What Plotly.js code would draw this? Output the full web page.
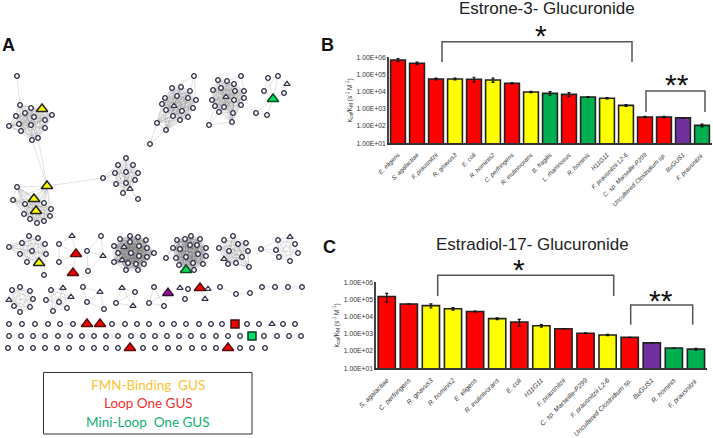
<!DOCTYPE html>
<html><head><meta charset="utf-8">
<script src="https://cdn.plot.ly/plotly-3.0.1.min.js"></script>
<style>html,body{margin:0;padding:0;background:#fff}#c{width:713px;height:438px}</style>
</head><body><div id="c"></div>
<script>
// ---- Panel B data
const bNames=["E. eligens","S. agalactiae","F. prausnitzii","R. gnavus3","E. coli","R. hominis2","C. perfringens","R. inulinivorans","B. fragilis","L. rhamnosus","R. hominis","H11G11","F. prausnitzii L2-6","C. sp. Marseille-P299","Uncultered Clostridium sp.","BuGUS1","F. prausnitzii "];
const bValues=[700000,450000,55000,55000,53000,48000,31000,9600,8000,7000,4900,4200,1600,340,340,300,110];
const bErrors=[150000,70000,6000,7000,16000,13000,3000,800,2000,1800,300,400,200,30,30,0,20];
const bGroups=["red","red","red","yellow","red","yellow","red","yellow","green","red","green","yellow","yellow","red","red","purple","green"];
// ---- Panel C data
const cNames=["S. agalactiae","C. perfringens","R. gnavus3","R. hominis2","E. eligens","R. inulinivorans","E. coli","H11G11","F. prausnitzii","C. sp. Marseille-P299","F. prausnitzii L2-6","Uncultered Clostridium sp.","BuGUS1","R. hominis","F. prausnitzii "];
const cValues=[150000,55000,44000,29000,20000,7700,4900,3000,2000,1100,870,630,300,150,130];
const cErrors=[80000,0,12000,5000,1000,1000,2000,500,0,50,70,0,0,0,15];
const cGroups=["red","red","yellow","yellow","red","yellow","red","yellow","red","red","yellow","red","purple","green","green"];
const palette={red:"#ff0000",yellow:"#ffff00",green:"#00b050",purple:"#7030a0"};
const logTicks=[10,100,1000,10000,100000,1000000];
const logTickText=["1.00E+01","1.00E+02","1.00E+03","1.00E+04","1.00E+05","1.00E+06"];
// ---- Panel A network, nodes
const net1=[[20,105],[31,108],[16,116],[25,113],[34,117],[45,120],[52,115],[9,126],[19,124],[31,125],[45,128],[21,131],[32,140],[38,138]];
const net2=[[17,187],[13,200],[25,204],[44,203],[51,209],[24,214],[30,219],[37,223],[44,221],[50,216]];
const net3=[[126,158],[118,165],[133,165],[115,173],[126,172],[138,173],[116,184],[126,183],[135,180],[123,193]];
const net4=[[172,88],[181,87],[190,91],[165,98],[177,96],[188,98],[196,100],[162,104],[193,108],[166,110],[182,111],[173,116],[180,120],[188,117],[157,123],[166,130]];
const net5=[[218,80],[227,81],[234,84],[213,90],[221,88],[235,91],[244,91],[212,100],[234,100],[244,98],[215,106],[224,107],[241,105],[219,112],[233,113],[232,122]];
const net6=[[29,236],[38,238],[22,243],[45,244],[9,247],[32,251],[20,254],[46,254],[27,262]];
const net7=[[120,239],[130,236],[138,237],[146,240],[114,246],[130,242],[139,246],[147,248],[154,253],[118,253],[131,253],[139,256],[147,257],[114,262],[128,263],[136,264],[144,264],[126,270],[138,270]];
const net8=[[177,240],[185,239],[191,236],[200,239],[173,248],[180,249],[190,245],[197,245],[206,248],[176,258],[186,257],[198,254],[206,256],[179,265],[193,263],[203,264],[194,270]];
const net9=[[224,240],[233,236],[219,248],[238,244],[246,243],[229,251],[248,251],[242,257],[228,264],[236,263],[249,267]];
const net10=[[278,240],[276,250],[295,244],[298,253],[279,257],[290,261]];
const net11=[[12,290],[20,287],[30,291],[33,299],[14,306],[30,307],[20,312]];
const net12=[[51,290],[46,300],[59,302],[67,308],[53,311]];
const looseCircles=[[17,76],[103,178],[138,199],[194,76],[150,144],[241,76],[209,125],[278,76],[268,78],[264,91],[284,93],[256,113],[267,115],[44,275],[59,244],[59,262],[101,236],[87,251],[88,271],[166,258],[261,249],[83,287],[87,302],[104,309],[135,292],[116,303],[154,287],[149,303],[164,306],[188,289],[185,299],[220,287],[236,294],[250,293],[262,287],[275,287],[288,287],[302,287]];
const row4X=[9,22,35,48,60,73,112,125,137,149,162,174,186,199,211,222,247,259,283,295];
const row5X=[9,21,33,45,58,70,82,94,106,118,131,143,155,167,179,191,203,216,228,240,264,277,289,301];
const row6X=[8,21,33,45,57,69,82,94,106,118,143,155,168,179,192,204,216,240,252,265];
const row4Y=324, row5Y=336, row6Y=348;
const whiteTriangles=[[130,189],[174,106],[226,97],[287,84],[72,236],[103,256],[124,247],[122,260],[224,259],[290,237],[9,300],[63,288],[71,297],[100,292],[122,288],[133,306],[180,288],[208,289],[205,299],[272,324]];
const yellowTriangles=[[42,109],[47,186],[34,199],[36,211],[39,263]];
const redTriangles=[[76,254],[73,273],[87,324],[100,324],[200,288],[130,348],[228,348]];
const greenTriangles=[[273,99],[186,270]];
const purpleTriangles=[[168,293]];
const redSquares=[[235,324]];
const greenSquares=[[252,336]];
const links=[
[[17,76],[20,105]],[[32,140],[47,186]],[[38,138],[47,186]],[[47,186],[103,178]],
[[103,178],[118,165]],[[103,178],[115,173]],[[103,178],[116,184]],[[103,178],[126,172]],[[103,178],[126,158]],[[130,189],[138,199]],[[126,183],[138,199]],
[[194,76],[190,91]],[[194,76],[172,88]],[[194,76],[196,100]],[[157,123],[150,144]],[[166,130],[150,144]],[[157,123],[166,130]],
[[241,76],[234,84]],[[241,76],[244,91]],[[241,76],[227,81]],[[209,125],[215,106]],[[209,125],[219,112]],[[209,125],[232,122]],
[[278,76],[268,78]],[[278,76],[287,84]],[[268,78],[264,91]],[[268,78],[273,99]],[[278,76],[273,99]],[[287,84],[273,99]],[[284,93],[273,99]],[[264,91],[273,99]],[[287,84],[284,93]],[[264,91],[278,76]],[[256,113],[273,99]],[[267,115],[273,99]],[[256,113],[267,115]],
[[39,263],[44,275]],[[46,254],[44,275]],[[72,236],[59,244]],[[72,236],[76,254]],[[59,244],[76,254]],[[59,244],[59,262]],[[59,262],[76,254]],[[59,262],[73,273]],[[76,254],[73,273]],
[[101,236],[87,251]],[[101,236],[103,256]],[[87,251],[103,256]],[[87,251],[88,271]],[[88,271],[103,256]],
[[166,258],[177,240]],[[166,258],[176,258]],[[166,258],[173,248]],[[261,249],[278,240]],[[261,249],[276,250]],[[261,249],[279,257]],
[[83,287],[100,292]],[[83,287],[87,302]],[[87,302],[100,292]],[[87,302],[104,309]],[[100,292],[104,309]],
[[122,288],[135,292]],[[122,288],[116,303]],[[122,288],[133,306]],[[135,292],[116,303]],[[135,292],[133,306]],[[116,303],[133,306]],
[[154,287],[149,303]],[[154,287],[168,293]],[[149,303],[164,306]],[[164,306],[168,293]],[[154,287],[164,306]],[[149,303],[168,293]],
[[180,288],[185,299]],[[188,289],[185,299]],[[200,288],[208,289]],[[200,288],[205,299]],[[208,289],[205,299]],
[[220,287],[236,294]],[[236,294],[250,293]],[[262,287],[275,287]],[[288,287],[302,287]],
[[9,324],[22,324]],[[35,324],[48,324]],[[60,324],[73,324]],[[73,324],[87,324]],[[112,324],[125,324]]
];
// Clusters whose members are all linked to one another
const fullyLinked=[
net1.concat([[42,109]]),net2.concat([[47,186],[34,199],[36,211]]),net3.concat([[130,189]]),
net4.concat([[174,106]]),net5.concat([[226,97]]),net6.concat([[39,263]]),
net9.concat([[224,259]]),net10.concat([[290,237]]),net11.concat([[9,300]]),net12.concat([[63,288],[71,297]])
];
// The two largest clusters read darker in the picture
const denseLinked=[net7.concat([[124,247],[122,260]]),net8.concat([[186,270]])];

const W=713,H=438;
const xp=p=>p/W, yp=p=>1-p/H;
function edgeTrace(groups,pairs,color){
  const ex=[],ey=[];
  groups.forEach(g=>{for(let i=0;i<g.length;i++)for(let j=i+1;j<g.length;j++){ex.push(g[i][0],g[j][0],null);ey.push(g[i][1],g[j][1],null);}});
  pairs.forEach(l=>{ex.push(l[0][0],l[1][0],null);ey.push(l[0][1],l[1][1],null);});
  return {type:"scatter",mode:"lines",xaxis:"x3",yaxis:"y3",x:ex,y:ey,line:{color:color,width:0.7},hoverinfo:"skip"};
}
const plainCircles=[].concat(net1,net2,net3,net4,net5,net6,net7,net8,net9,net10,net11,net12,looseCircles,
  row4X.map(x=>[x,row4Y]),row5X.map(x=>[x,row5Y]),row6X.map(x=>[x,row6Y]));

function nodes(list,symbol,size,fill,lineColor,lineWidth){
  return {type:"scatter",mode:"markers",xaxis:"x3",yaxis:"y3",x:list.map(p=>p[0]),y:list.map(p=>p[1]),
    marker:{symbol:symbol,size:size,color:fill,line:{color:lineColor,width:lineWidth}},hoverinfo:"skip",cliponaxis:false};
}
function bars(names,values,errors,groups,xa,ya){
  return {type:"bar",x:names,y:values,xaxis:xa,yaxis:ya,width:0.78,
    marker:{color:groups.map(g=>palette[g]),line:{color:"#222",width:1.6}},
    error_y:{type:"data",array:errors,visible:true,color:"#111",thickness:1.2,width:1.5}};
}
const data=[
 bars(bNames,bValues,bErrors,bGroups,"x","y"),
 bars(cNames,cValues,cErrors,cGroups,"x2","y2"),
 edgeTrace(fullyLinked,links,"rgba(140,140,140,0.36)"),
 edgeTrace(denseLinked,[],"rgba(120,120,120,0.48)"),
 nodes(plainCircles,"circle",4.6,"#fff","#2b2b45",1.3),
 nodes(whiteTriangles,"triangle-up",5.5,"#fff","#33334a",1.2),
 nodes(yellowTriangles,"triangle-up",10,"#ffff00","#222",1.5),
 nodes(redTriangles,"triangle-up",10,"#ee0000","#5a1010",1.5),
 nodes(greenTriangles,"triangle-up",10,"#00e060","#0c4a20",1.5),
 nodes(purpleTriangles,"triangle-up",9.5,"#a000a0","#301030",1.5),
 nodes(redSquares,"square",8,"#ee0000","#401010",1.5),
 nodes(greenSquares,"square",8,"#00e060","#0c3a20",1.5)
];
function valueAxis(top,bottom,anchor,font){
  return {type:"log",range:[1,6],domain:[yp(bottom),yp(top)],anchor:anchor,tickvals:logTicks,ticktext:logTickText,
    tickfont:{size:font,color:"#333"},ticks:"",showgrid:false,zeroline:false,showline:true,linecolor:"#444",linewidth:1.3,automargin:false,
    title:{text:"k<sub>cat</sub>/K<sub>M</sub> (s<sup>-1</sup> M<sup>-1</sup>)",font:{size:6.5,color:"#333"},standoff:3}};
}
function nameAxis(left,right,anchor,font){
  return {type:"category",domain:[xp(left),xp(right)],anchor:anchor,tickangle:-45,ticklabelstandoff:4,
    tickfont:{size:font,color:"#333",family:"Liberation Sans",style:"italic"},
    ticks:"",showgrid:false,zeroline:false,showline:true,linecolor:"#333",linewidth:1.6,automargin:false};
}
function note(text,x,y,size,color,extra){
  return Object.assign({text:text,xref:"paper",yref:"paper",x:xp(x),y:yp(y),xanchor:"center",yanchor:"middle",showarrow:false,
    font:{size:size,color:color,family:"Liberation Sans"}},extra||{});
}
function bracket(l,r,top,bottom){
  return {type:"path",xref:"paper",yref:"paper",layer:"above",
    path:`M ${xp(l)} ${yp(bottom)} L ${xp(l)} ${yp(top)} L ${xp(r)} ${yp(top)} L ${xp(r)} ${yp(bottom)}`,
    line:{color:"#555",width:1.5}};
}
const layout={
 width:W,height:H,margin:{l:0,r:0,t:0,b:0},paper_bgcolor:"#fff",plot_bgcolor:"rgba(0,0,0,0)",showlegend:false,bargap:0.2,
 font:{family:"Liberation Sans"},
 xaxis:nameAxis(388.5,711.5,"y",6.2),
 yaxis:valueAxis(57.3,143.3,"x",6.8),
 xaxis2:nameAxis(375.7,707,"y2",6.7),
 yaxis2:valueAxis(282.3,368.3,"x2",6.8),
 xaxis3:{domain:[0,1],range:[0,W],visible:false,fixedrange:true,anchor:"y3"},
 yaxis3:{domain:[0,1],range:[H,0],visible:false,fixedrange:true,anchor:"x3"},
 shapes:[
  bracket(442,632,41.7,62),bracket(646,705,91,112),
  bracket(437.7,613.7,275.3,296),bracket(630.7,692.7,305,324.7),
  {type:"rect",xref:"paper",yref:"paper",x0:xp(43.5),x1:xp(252),y0:yp(372.5),y1:yp(434),line:{color:"#333",width:1},fillcolor:"rgba(0,0,0,0)"}
 ],
 annotations:[
  note("<b>A</b>",8,45,18,"#111"),note("<b>B</b>",327,45,18,"#111"),note("<b>C</b>",329,247,18,"#111"),
  note("Estrone-3- Glucuronide",547,8,17,"#222"),
  note("Estradiol-17- Glucuronide",532,244,17,"#222"),
  note("*",541,35,30,"#111"),note("**",677,85,30,"#111"),
  note("*",519,269,30,"#111"),note("**",661,300,30,"#111"),
  note("FMN-Binding  GUS",148,385,13.5,"#fdc232",{font:{size:13.5,color:"#fdc232",family:"Lato"}}),
  note("Loop One GUS",148,403,13.5,"#f03030",{font:{size:13.5,color:"#f03030",family:"Lato"}}),
  note("Mini-Loop  One GUS",148,422,13.5,"#10b070",{font:{size:13.5,color:"#10b070",family:"Lato"}})
 ]
};
Plotly.newPlot("c",data,layout,{displayModeBar:false,staticPlot:true});
</script></body></html>
